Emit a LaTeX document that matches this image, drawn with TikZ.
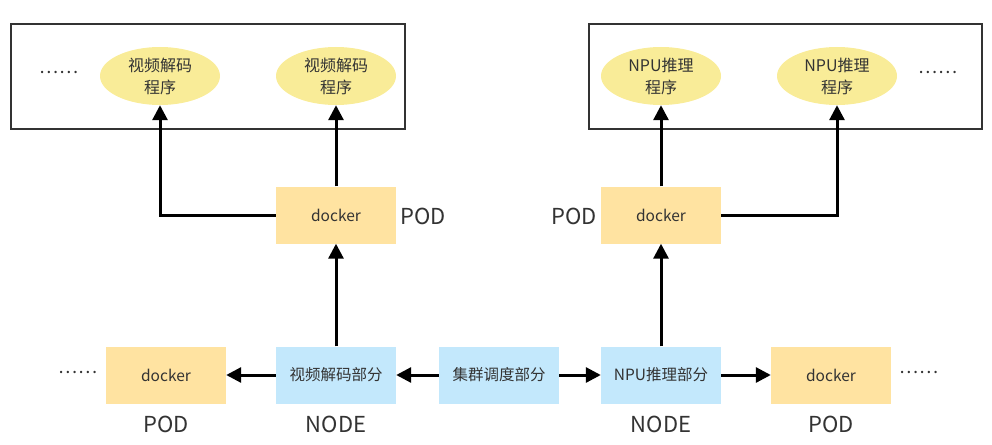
\documentclass[tikz,border=0pt]{standalone}
\usepackage{fontspec}
\setmainfont{Noto Sans CJK SC}
\usetikzlibrary{shapes.geometric,arrows.meta}
\definecolor{podfill}{HTML}{FFE3A1}
\definecolor{nodefill}{HTML}{C3E8FC}
\definecolor{progfill}{HTML}{F9EC98}
\definecolor{txt}{HTML}{333333}
\tikzset{
	podbox/.style={fill=podfill, minimum width=120, minimum height=57, inner sep=0, text=txt, font=\fontsize{15.5}{18}\selectfont},
	nodebox/.style={fill=nodefill, minimum width=120, minimum height=57, inner sep=0, text=txt, font=\fontsize{15.5}{18}\selectfont},
	prog/.style={ellipse, fill=progfill, minimum width=120, minimum height=58, inner sep=0, align=center, text=txt, font=\fontsize{16}{22}\selectfont},
	tag/.style={text=txt, font=\fontsize{22}{24}\selectfont},
	dots/.style={text=txt, font=\fontsize{18}{20}\selectfont},
	link/.style={->, >={Triangle[length=15pt,width=15pt]}, line width=3pt}
}
\begin{document}
\begin{tikzpicture}[x=1pt, y=-1pt]
		\useasboundingbox (0,0) rectangle (992,444);
		% upper boxes
		\draw[line width=1.8pt, draw=txt] (11,24) rectangle (405,129);
		\draw[line width=1.8pt, draw=txt] (589,24) rectangle (982,129);
		\draw (59,72) node[dots] (DL) {……};
		\draw (160,76) node[prog] (E1) {视频解码\\程序};
		\draw (336,76) node[prog] (E2) {视频解码\\程序};
		\draw (661,76) node[prog] (E3) {NPU推理\\程序};
		\draw (837,76) node[prog] (E4) {NPU推理\\程序};
		\draw (938,72) node[dots] (DR) {……};
		% middle pods
		\draw (336,215) node[podbox] (P1) {docker};
		\draw (423,216) node[tag] (P1L) {POD};
		\draw (661,215) node[podbox] (P2) {docker};
		\draw (574,216) node[tag] (P2L) {POD};
		% bottom row
		\draw (78,372) node[dots] (BL) {……};
		\draw (166,375) node[podbox] (Q1) {docker};
		\draw (336,375) node[nodebox] (N1) {视频解码部分};
		\draw (499,375) node[nodebox] (S) {集群调度部分};
		\draw (661,375) node[nodebox] (N2) {NPU推理部分};
		\draw (831,375) node[podbox] (Q2) {docker};
		\draw (919,372) node[dots] (BR) {……};
		\draw (166,424) node[tag] (Q1L) {POD};
		\draw (336,424) node[tag] (N1L) {NODE};
		\draw (661,424) node[tag] (N2L) {NODE};
		\draw (831,424) node[tag] (Q2L) {POD};
		% arrows
		\draw[link] (S) -- (N1);
		\draw[link] (S) -- (N2);
		\draw[link] (N1) -- (Q1);
		\draw[link] (N2) -- (Q2);
		\draw[link] (N1) -- (P1);
		\draw[link] (N2) -- (P2);
		\draw[link] (P1) -- (E2);
		\draw[link] (P2) -- (E3);
		\draw[link] (P1.west) -| (E1.south);
		\draw[link] (P2.east) -| (E4.south);
	\end{tikzpicture}
\end{document}
